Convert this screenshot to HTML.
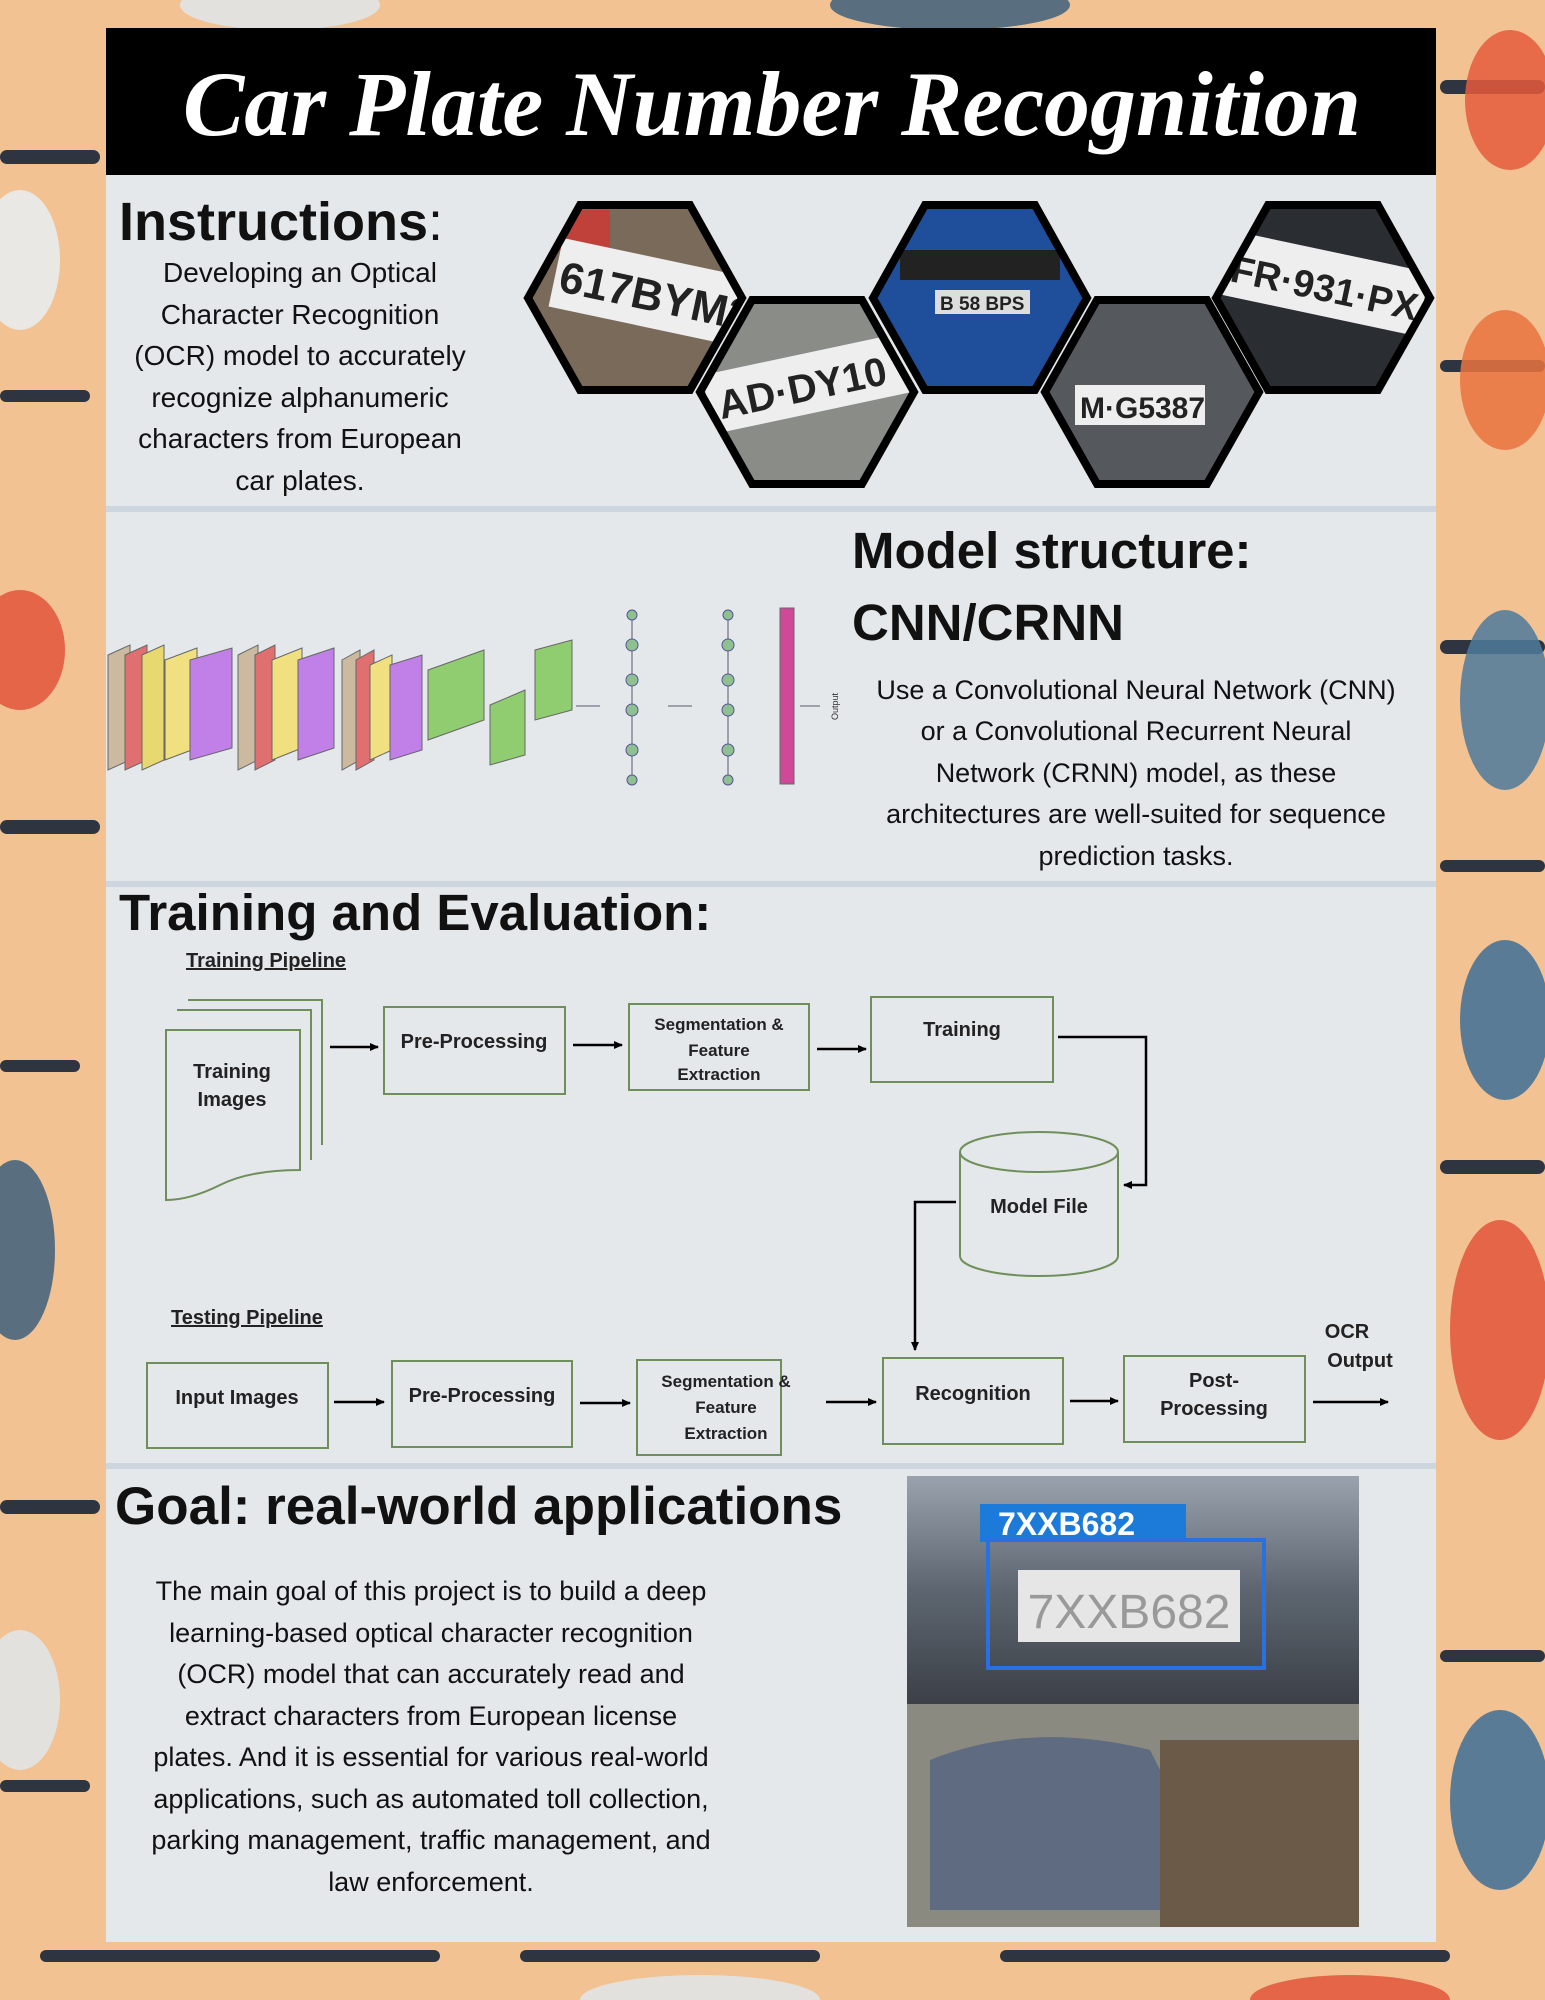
<!DOCTYPE html>
<html><head><meta charset="utf-8"><style>
html,body{margin:0;padding:0;width:1545px;height:2000px;overflow:hidden;background:#f2c292;}
svg{display:block}
text{font-family:"Liberation Sans",sans-serif}
</style></head><body>
<svg width="1545" height="2000" viewBox="0 0 1545 2000" xmlns="http://www.w3.org/2000/svg">
<defs>
<marker id="ah" markerWidth="10" markerHeight="10" refX="8" refY="5" orient="auto" markerUnits="userSpaceOnUse"><path d="M0,1 L9,5 L0,9 z" fill="#000"/></marker>
<linearGradient id="car" x1="0" y1="0" x2="0" y2="1"><stop offset="0" stop-color="#9aa3ad"/><stop offset="0.5" stop-color="#5d6670"/><stop offset="1" stop-color="#3c4047"/></linearGradient>
<clipPath id="h1"><polygon points="580,205 690,205 742,298 690,390 580,390 528,298"/></clipPath>
<clipPath id="h2"><polygon points="752,300 862,300 914,392 862,484 752,484 700,392"/></clipPath>
<clipPath id="h3"><polygon points="925,205 1035,205 1087,298 1035,390 925,390 873,298"/></clipPath>
<clipPath id="h4"><polygon points="1097,300 1207,300 1259,392 1207,484 1097,484 1045,392"/></clipPath>
<clipPath id="h5"><polygon points="1268,205 1378,205 1430,298 1378,390 1268,390 1216,298"/></clipPath>
</defs>
<rect width="1545" height="2000" fill="#f2c292"/>
<g fill="#2f3540">
<rect x="0" y="150" width="100" height="14" rx="7"/><rect x="0" y="390" width="90" height="12" rx="6"/>
<rect x="0" y="820" width="100" height="14" rx="7"/><rect x="0" y="1060" width="80" height="12" rx="6"/>
<rect x="0" y="1500" width="100" height="14" rx="7"/><rect x="0" y="1780" width="90" height="12" rx="6"/>
<rect x="1440" y="80" width="105" height="14" rx="7"/><rect x="1440" y="360" width="105" height="12" rx="6"/>
<rect x="1440" y="640" width="105" height="14" rx="7"/><rect x="1440" y="860" width="105" height="12" rx="6"/>
<rect x="1440" y="1160" width="105" height="14" rx="7"/><rect x="1440" y="1650" width="105" height="12" rx="6"/>
<rect x="40" y="1950" width="400" height="12" rx="6"/><rect x="520" y="1950" width="300" height="12" rx="6"/><rect x="1000" y="1950" width="450" height="12" rx="6"/>
</g>
<g opacity="0.85">
<ellipse cx="20" cy="260" rx="40" ry="70" fill="#e9eef2"/><ellipse cx="20" cy="650" rx="45" ry="60" fill="#e2553a"/>
<ellipse cx="15" cy="1250" rx="40" ry="90" fill="#3e5f7a"/><ellipse cx="20" cy="1700" rx="40" ry="70" fill="#dfe6ea"/>
<ellipse cx="1510" cy="100" rx="45" ry="70" fill="#e55b3c"/><ellipse cx="1505" cy="380" rx="45" ry="70" fill="#e9733f"/>
<ellipse cx="1505" cy="700" rx="45" ry="90" fill="#4d7a9b"/><ellipse cx="1505" cy="1020" rx="45" ry="80" fill="#3e6f95"/>
<ellipse cx="1500" cy="1330" rx="50" ry="110" fill="#e2553a"/><ellipse cx="1500" cy="1800" rx="50" ry="90" fill="#3e6f95"/>
<ellipse cx="280" cy="5" rx="100" ry="25" fill="#dfe6ea"/><ellipse cx="950" cy="5" rx="120" ry="25" fill="#3e5f7a"/>
<ellipse cx="700" cy="2000" rx="120" ry="25" fill="#dfe6ea"/><ellipse cx="1350" cy="2000" rx="100" ry="25" fill="#e2553a"/>
</g>
<rect x="106" y="28" width="1330" height="1914" fill="#e4e8eb"/>
<rect x="106" y="28" width="1330" height="147" fill="#000"/>
<text x="772" y="135" text-anchor="middle" fill="#fff" font-size="92" font-style="italic" font-weight="bold" style="font-family:'Liberation Serif',serif">Car Plate Number Recognition</text>
<g fill="#cdd6de"><rect x="106" y="506" width="1330" height="6"/><rect x="106" y="881" width="1330" height="6"/><rect x="106" y="1463" width="1330" height="6"/></g>

<text x="119" y="240" font-size="54" font-weight="bold" fill="#111">Instructions<tspan font-weight="normal">:</tspan></text>
<g font-size="28" fill="#111" text-anchor="middle">
<text x="300" y="282">Developing an Optical</text><text x="300" y="324">Character Recognition</text>
<text x="300" y="365">(OCR) model to accurately</text><text x="300" y="407">recognize alphanumeric</text>
<text x="300" y="448">characters from European</text><text x="300" y="490">car plates.</text>
</g>
<g font-weight="bold" fill="#222">
<g clip-path="url(#h1)"><rect x="520" y="200" width="230" height="200" fill="#7a6a5a"/><rect x="550" y="210" width="60" height="40" fill="#c0403a"/>
<rect x="555" y="255" width="190" height="70" fill="#eee" transform="rotate(12 640 285)"/>
<text x="560" y="308" font-size="44" transform="rotate(12 640 285)">617BYM27</text></g>
<g clip-path="url(#h2)"><rect x="690" y="295" width="230" height="200" fill="#8a8c88"/>
<rect x="705" y="355" width="210" height="60" fill="#eee" transform="rotate(-12 800 380)"/>
<text x="715" y="402" font-size="40" transform="rotate(-12 800 380)">AD·DY10</text></g>
<g clip-path="url(#h3)"><rect x="870" y="200" width="220" height="200" fill="#1f4f9a"/><rect x="900" y="250" width="160" height="30" fill="#222"/>
<rect x="935" y="290" width="95" height="24" fill="#ddd"/><text x="940" y="310" font-size="19">B 58 BPS</text></g>
<g clip-path="url(#h4)"><rect x="1040" y="295" width="220" height="200" fill="#55595e"/>
<rect x="1075" y="385" width="130" height="40" fill="#eee"/><text x="1080" y="418" font-size="30">M·G5387</text></g>
<g clip-path="url(#h5)"><rect x="1210" y="200" width="230" height="200" fill="#2a2d31"/>
<rect x="1225" y="250" width="200" height="65" fill="#eee" transform="rotate(12 1320 285)"/>
<text x="1230" y="300" font-size="38" transform="rotate(12 1320 285)">FR·931·PX</text></g>
</g>
<g stroke="#000" stroke-width="8" fill="none">
<polygon points="580,205 690,205 742,298 690,390 580,390 528,298"/>
<polygon points="752,300 862,300 914,392 862,484 752,484 700,392"/>
<polygon points="925,205 1035,205 1087,298 1035,390 925,390 873,298"/>
<polygon points="1097,300 1207,300 1259,392 1207,484 1097,484 1045,392"/>
<polygon points="1268,205 1378,205 1430,298 1378,390 1268,390 1216,298"/>
</g>

<text x="852" y="568" font-size="51" font-weight="bold" fill="#111">Model structure:</text>
<text x="852" y="640" font-size="51" font-weight="bold" fill="#111">CNN/CRNN</text>
<g font-size="27" fill="#111" text-anchor="middle">
<text x="1136" y="699">Use a Convolutional Neural Network (CNN)</text>
<text x="1136" y="740">or a Convolutional Recurrent Neural</text>
<text x="1136" y="782">Network (CRNN) model, as these</text>
<text x="1136" y="823">architectures are well-suited for sequence</text>
<text x="1136" y="865">prediction tasks.</text>
</g>
<g stroke="#666" stroke-width="1">
<polygon points="108,655 130,645 130,760 108,770" fill="#cbb9a0"/>
<polygon points="125,655 147,645 147,760 125,770" fill="#e07070"/>
<polygon points="142,655 164,645 164,760 142,770" fill="#e8d870"/>
<polygon points="165,660 197,648 197,748 165,760" fill="#f0e080"/>
<polygon points="190,660 232,648 232,748 190,760" fill="#c080e8"/>
<polygon points="238,655 258,645 258,760 238,770" fill="#cbb9a0"/>
<polygon points="255,655 275,645 275,760 255,770" fill="#e07070"/>
<polygon points="272,660 302,648 302,748 272,760" fill="#f0e080"/>
<polygon points="298,660 334,648 334,748 298,760" fill="#c080e8"/>
<polygon points="342,660 360,650 360,760 342,770" fill="#cbb9a0"/>
<polygon points="356,660 374,650 374,760 356,770" fill="#e07070"/>
<polygon points="370,665 392,655 392,750 370,760" fill="#f0e080"/>
<polygon points="390,665 422,655 422,750 390,760" fill="#c080e8"/>
<polygon points="428,670 484,650 484,720 428,740" fill="#90cc70"/>
<polygon points="490,705 525,690 525,755 490,765" fill="#90cc70"/>
<polygon points="535,650 572,640 572,710 535,720" fill="#90cc70"/>
<rect x="780" y="608" width="14" height="176" fill="#d04898"/>
</g>
<g fill="none" stroke="#889" stroke-width="1.5">
<line x1="576" y1="706" x2="600" y2="706"/><line x1="668" y1="706" x2="692" y2="706"/><line x1="800" y1="706" x2="820" y2="706"/>
<line x1="632" y1="615" x2="632" y2="780"/><line x1="728" y1="615" x2="728" y2="780"/>
</g>
<g fill="#8fc08f" stroke="#559">
<circle cx="632" cy="615" r="5"/><circle cx="632" cy="645" r="6"/><circle cx="632" cy="680" r="6"/><circle cx="632" cy="710" r="6"/><circle cx="632" cy="750" r="6"/><circle cx="632" cy="780" r="5"/>
<circle cx="728" cy="615" r="5"/><circle cx="728" cy="645" r="6"/><circle cx="728" cy="680" r="6"/><circle cx="728" cy="710" r="6"/><circle cx="728" cy="750" r="6"/><circle cx="728" cy="780" r="5"/>
</g>
<text x="838" y="720" font-size="9" transform="rotate(-90 838 720)" fill="#333">Output</text>

<text x="119" y="930" font-size="51" font-weight="bold" fill="#111">Training and Evaluation:</text>
<g font-size="20" font-weight="bold" fill="#222">
<text x="186" y="967" text-decoration="underline">Training Pipeline</text>
<text x="171" y="1324" text-decoration="underline">Testing Pipeline</text>
</g>
<g fill="none" stroke="#6f8f5a" stroke-width="2">
<path d="M188,1000 h134 v145"/><path d="M177,1010 h134 v150"/>
<path d="M166,1030 h134 v140 q-50,0 -80,15 q-30,15 -54,15 z" fill="#e4e8eb"/>
<rect x="384" y="1007" width="181" height="87"/><rect x="629" y="1004" width="180" height="86"/><rect x="871" y="997" width="182" height="85"/>
<path d="M960,1152 v104 a79,20 0 0 0 158,0 v-104" /><ellipse cx="1039" cy="1152" rx="79" ry="20" fill="#e4e8eb"/>
<rect x="147" y="1363" width="181" height="85"/><rect x="392" y="1361" width="180" height="86"/><rect x="637" y="1360" width="144" height="95"/>
<rect x="883" y="1358" width="180" height="86"/><rect x="1124" y="1356" width="181" height="86"/>
</g>
<g stroke="#000" stroke-width="2.5" fill="none" marker-end="url(#ah)">
<line x1="330" y1="1047" x2="378" y2="1047"/><line x1="573" y1="1045" x2="622" y2="1045"/><line x1="817" y1="1049" x2="866" y2="1049"/>
<path d="M1058,1037 H1146 V1185 H1124"/>
<path d="M956,1202 H915 V1350"/>
<line x1="334" y1="1402" x2="384" y2="1402"/><line x1="580" y1="1403" x2="630" y2="1403"/><line x1="826" y1="1402" x2="876" y2="1402"/>
<line x1="1070" y1="1401" x2="1118" y2="1401"/><line x1="1313" y1="1402" x2="1388" y2="1402"/>
</g>
<g font-size="20" font-weight="bold" fill="#222" text-anchor="middle">
<text x="232" y="1078">Training</text><text x="232" y="1106">Images</text>
<text x="474" y="1048">Pre-Processing</text>
<text x="719" y="1030" font-size="17">Segmentation &amp;</text><text x="719" y="1056" font-size="17">Feature</text><text x="719" y="1080" font-size="17">Extraction</text>
<text x="962" y="1036">Training</text>
<text x="1039" y="1213">Model File</text>
<text x="237" y="1404">Input Images</text>
<text x="482" y="1402">Pre-Processing</text>
<text x="726" y="1387" font-size="17">Segmentation &amp;</text><text x="726" y="1413" font-size="17">Feature</text><text x="726" y="1439" font-size="17">Extraction</text>
<text x="973" y="1400">Recognition</text>
<text x="1214" y="1387">Post-</text><text x="1214" y="1415">Processing</text>
<text x="1347" y="1338">OCR</text><text x="1360" y="1367">Output</text>
</g>

<text x="115" y="1524" font-size="53" font-weight="bold" fill="#111">Goal: real-world applications</text>
<g font-size="27" fill="#111" text-anchor="middle">
<text x="431" y="1600">The main goal of this project is to build a deep</text>
<text x="431" y="1642">learning-based optical character recognition</text>
<text x="431" y="1683">(OCR) model that can accurately read and</text>
<text x="431" y="1725">extract characters from European license</text>
<text x="431" y="1766">plates. And it is essential for various real-world</text>
<text x="431" y="1808">applications, such as automated toll collection,</text>
<text x="431" y="1849">parking management, traffic management, and</text>
<text x="431" y="1891">law enforcement.</text>
</g>
<rect x="907" y="1476" width="452" height="228" fill="url(#car)"/>
<rect x="907" y="1704" width="452" height="223" fill="#8a8a80"/>
<path d="M930,1760 q100,-40 220,-10 l40,80 v80 h-260 z" fill="#5f6b80"/>
<rect x="1160" y="1740" width="199" height="187" fill="#6b5a48"/>
<rect x="980" y="1504" width="206" height="38" fill="#1c7ad8"/>
<text x="998" y="1535" font-size="32" font-weight="bold" fill="#fff">7XXB682</text>
<rect x="988" y="1540" width="276" height="128" fill="none" stroke="#2a70e0" stroke-width="4"/>
<rect x="1018" y="1570" width="222" height="72" fill="#e6e6e6"/>
<text x="1129" y="1628" font-size="48" fill="#999" text-anchor="middle">7XXB682</text>
</svg>
</body></html>
